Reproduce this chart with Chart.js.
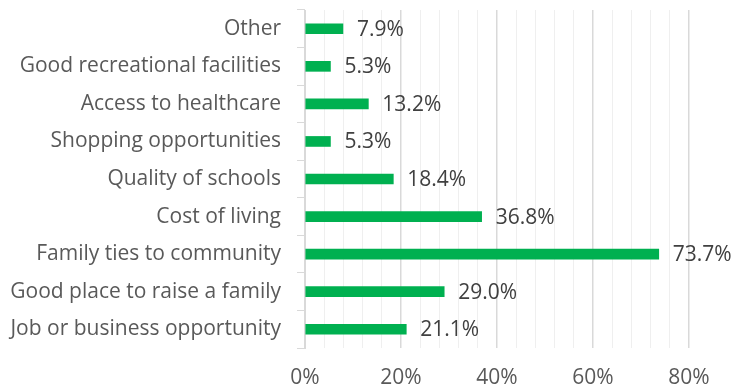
<!DOCTYPE html>
<html lang="en">
<head>
    <meta charset="UTF-8">
    <title>Reasons for Living in the Community</title>
    <script src="https://cdn.jsdelivr.net/npm/chart.js"></script>
    <style>
        html, body {
            margin: 0;
            padding: 0;
            background: #ffffff;
        }
        .chart-container {
            position: relative;
            width: 734px;
            height: 389px;
        }
    </style>
</head>
<body>
    <div class="chart-container">
        <canvas id="reasonsChart"></canvas>
    </div>

    <script>
        const reasons = [
            'Other',
            'Good recreational facilities',
            'Access to healthcare',
            'Shopping opportunities',
            'Quality of schools',
            'Cost of living',
            'Family ties to community',
            'Good place to raise a family',
            'Job or business opportunity'
        ];
        const shares = [7.9, 5.3, 13.2, 5.3, 18.4, 36.8, 73.7, 29.0, 21.1];
        const axisTicks = [0, 20, 40, 60, 80];

        const fontFamily = "'Open Sans', sans-serif";
        const fontSize = 21;

        // value labels to the right of each bar
        const barLabels = {
            id: 'barLabels',
            afterDatasetsDraw(chart) {
                const ctx = chart.ctx;
                const meta = chart.getDatasetMeta(0);
                ctx.save();
                ctx.font = fontSize + 'px ' + fontFamily;
                ctx.fillStyle = '#404040';
                ctx.textAlign = 'left';
                ctx.textBaseline = 'middle';
                meta.data.forEach((bar, i) => {
                    ctx.fillText(shares[i].toFixed(1) + '%', bar.x + 14, bar.y + 1);
                });
                ctx.restore();
            }
        };

        const ctx = document.getElementById('reasonsChart').getContext('2d');

        new Chart(ctx, {
            type: 'bar',
            data: {
                labels: reasons,
                datasets: [{
                    data: shares,
                    backgroundColor: '#00B050',
                    barThickness: 10,
                    categoryPercentage: 1
                }]
            },
            options: {
                indexAxis: 'y',
                responsive: true,
                maintainAspectRatio: false,
                animation: false,
                layout: {
                    padding: { top: 10, right: 45, bottom: 0, left: 0 }
                },
                scales: {
                    x: {
                        min: 0,
                        max: 80,
                        afterFit(scale) {
                            scale.height = 41;
                            scale.paddingLeft = 0;
                            scale.paddingRight = 0;
                        },
                        ticks: {
                            stepSize: 4,
                            autoSkip: false,
                            maxRotation: 0,
                            padding: 17,
                            color: '#595959',
                            font: { family: fontFamily, size: fontSize },
                            callback: function(value) {
                                return axisTicks.includes(value) ? value + '%' : '';
                            }
                        },
                        grid: {
                            drawTicks: false,
                            color: (c) => (c.tick && c.tick.value % 20 === 0) ? '#d9d9d9' : '#efefef',
                            lineWidth: (c) => (c.tick && c.tick.value % 20 === 0) ? 1.5 : 1
                        },
                        border: { display: false }
                    },
                    y: {
                        afterFit(scale) {
                            scale.width = 305;
                            scale.paddingTop = 0;
                            scale.paddingBottom = 0;
                        },
                        ticks: {
                            padding: 16,
                            color: '#595959',
                            font: { family: fontFamily, size: fontSize }
                        },
                        grid: {
                            offset: true,
                            drawOnChartArea: false,
                            drawTicks: true,
                            tickLength: 8,
                            color: '#d9d9d9'
                        },
                        border: { display: true, color: '#d9d9d9' }
                    }
                },
                plugins: {
                    legend: { display: false },
                    tooltip: { enabled: false }
                }
            },
            plugins: [barLabels]
        });
    </script>
</body>
</html>
